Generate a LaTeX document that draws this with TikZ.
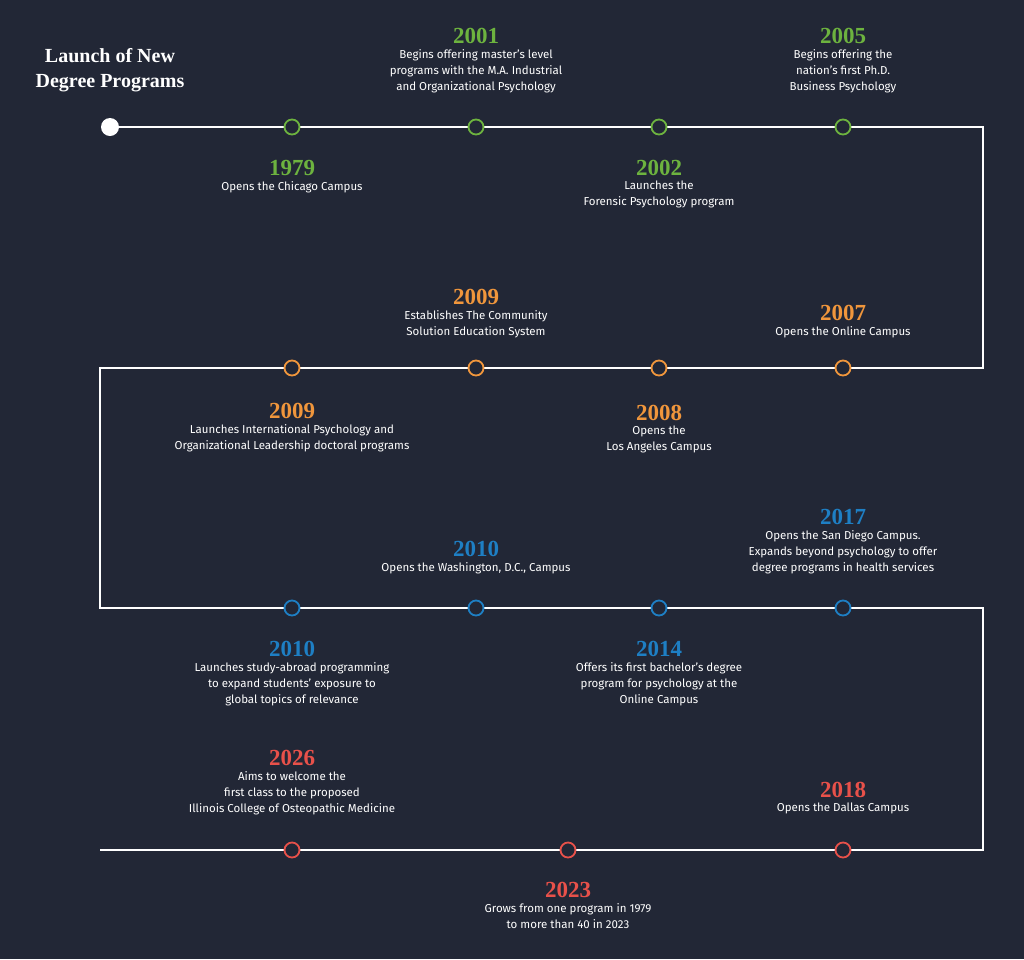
\documentclass[tikz,border=0pt]{standalone}
\usepackage{fontspec}
\setsansfont{Fira Sans}
\setmainfont{Liberation Serif}
\definecolor{bg}{HTML}{222736}
\definecolor{cgreen}{HTML}{6DB33F}
\definecolor{corange}{HTML}{F0963C}
\definecolor{cblue}{HTML}{1E7FC4}
\definecolor{cred}{HTML}{E8514A}
\begin{document}
\begin{tikzpicture}[
    x=1pt, y=-1pt,
    dot_style/.style={circle, draw=#1, line width=1.8pt, fill=bg, minimum size=15pt, inner sep=0pt},
    year_style/.style={font=\bfseries\fontsize{23}{23}\selectfont, text=#1, inner sep=0pt},
    desc_style/.style={font=\sffamily\fontsize{11.5}{16}\selectfont, text=white, align=center, anchor=north, inner sep=0pt}
]
    \fill[bg] (0,0) rectangle (1024,959);

    % --- path ---
    \node[circle, fill=white, minimum size=18pt, inner sep=0pt] (start) at (110,127) {};
    \coordinate (c1) at (983,127);
    \coordinate (c2) at (983,368);
    \coordinate (c3) at (100,368);
    \coordinate (c4) at (100,608);
    \coordinate (c5) at (983,608);
    \coordinate (c6) at (983,850);
    \coordinate (end) at (100,850);
    \draw[white, line width=1.8pt] (start) -- (c1) -- (c2) -- (c3) -- (c4) -- (c5) -- (c6) -- (end);

    \node[font=\bfseries\fontsize{20}{25}\selectfont, text=white, align=center] (title) at (110,70) {Launch of New\\Degree Programs};

    % --- dots ---
    \foreach \x/\n in {292/a, 476/b, 659/c, 843/d} {
        \node[dot_style=cgreen] (g\n) at (\x,127) {};
        \node[dot_style=corange] (o\n) at (\x,368) {};
        \node[dot_style=cblue] (b\n) at (\x,608) {};
    }
    \foreach \x/\n in {292/a, 568/b, 843/c}
        \node[dot_style=cred] (r\n) at (\x,850) {};

    % #1 name, #2 x, #3 year y, #4 colour, #5 year, #6 text
    \def\event#1#2#3#4#5#6{
        \node[year_style=#4] (y#1) at (#2,#3) {#5};
        \node[desc_style] (d#1) at (#2,#3+13) {#6};
    }

    \event{a}{476}{36}{cgreen}{2001}{Begins offering master’s level\\programs with the M.A. Industrial\\and Organizational Psychology}
    \event{b}{843}{36}{cgreen}{2005}{Begins offering the\\nation’s first Ph.D.\\Business Psychology}
    \event{c}{292}{168}{cgreen}{1979}{Opens the Chicago Campus}
    \event{d}{659}{168}{cgreen}{2002}{Launches the\\Forensic Psychology program}
    \event{e}{476}{297}{corange}{2009}{Establishes The Community\\Solution Education System}
    \event{f}{843}{313}{corange}{2007}{Opens the Online Campus}
    \event{g}{292}{411}{corange}{2009}{Launches International Psychology and\\Organizational Leadership doctoral programs}
    \event{h}{659}{413}{corange}{2008}{Opens the\\Los Angeles Campus}
    \event{i}{476}{549}{cblue}{2010}{Opens the Washington, D.C., Campus}
    \event{j}{843}{517}{cblue}{2017}{Opens the San Diego Campus.\\Expands beyond psychology to offer\\degree programs in health services}
    \event{k}{292}{649}{cblue}{2010}{Launches study-abroad programming\\to expand students’ exposure to\\global topics of relevance}
    \event{l}{659}{649}{cblue}{2014}{Offers its first bachelor’s degree\\program for psychology at the\\Online Campus}
    \event{m}{292}{758}{cred}{2026}{Aims to welcome the\\first class to the proposed\\Illinois College of Osteopathic Medicine}
    \event{n}{843}{790}{cred}{2018}{Opens the Dallas Campus}
    \event{o}{568}{890}{cred}{2023}{Grows from one program in 1979\\to more than 40 in 2023}
\end{tikzpicture}
\end{document}
